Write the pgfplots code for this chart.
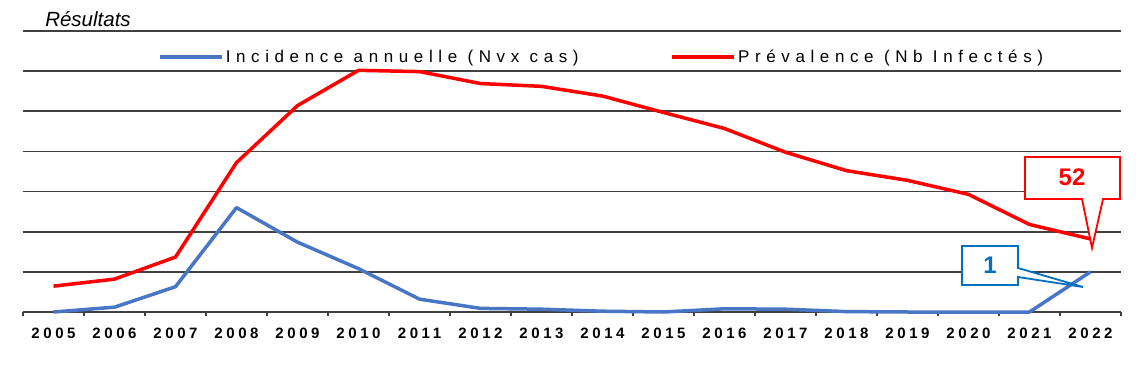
\documentclass[border=0pt]{standalone}
\usepackage{fontspec}
\setmainfont{Liberation Sans}
\newfontfamily\legfont[LetterSpace=33]{Liberation Sans}
\newfontfamily\tickfont[LetterSpace=24]{Liberation Sans}
\usepackage{pgfplots}
\pgfplotsset{compat=1.18}
\definecolor{incblue}{RGB}{72,118,196}
\definecolor{calblue}{RGB}{0,112,192}
\definecolor{gridgray}{RGB}{64,64,64}
\begin{document}
\begin{tikzpicture}
\path[use as bounding box] (0,0) rectangle (1145pt,375pt);
\begin{axis}[
  at={(23pt,63pt)}, anchor=south west, scale only axis,
  width=1098pt, height=281pt,
  xmin=-0.5, xmax=17.5, ymin=0, ymax=7,
  clip=false,
  axis line style={draw=none},
  ytick={0,...,7}, yticklabels={}, ymajorgrids,
  major y tick style={draw=none},
  grid style={draw=gridgray, line width=1.8pt},
  xtick={0,...,17},
  xticklabels={2005,2006,2007,2008,2009,2010,2011,2012,2013,2014,2015,2016,2017,2018,2019,2020,2021,2022},
  major x tick style={draw=none},
  minor xtick={-0.5,0.5,...,17.5},
  minor tick length=4pt,
  tick align=outside, xtick pos=bottom,
  minor x tick style={draw=gridgray, line width=1.5pt},
  xticklabel style={font=\tickfont\bfseries\fontsize{15}{16}\selectfont, yshift=-8pt},
  legend columns=2,
  legend cell align=left,
  legend style={at={(0.123,0.907)}, anchor=west, draw=none, fill=none, inner sep=0pt,
    font=\legfont\fontsize{17}{18}\selectfont,
    /tikz/every even column/.append style={column sep=90pt}},
  legend image code/.code={\draw[#1] (0pt,0pt) -- (62pt,0pt);},
]
\addplot[incblue, line width=3.5pt, line join=round] coordinates {
 (0,0) (1,0.12) (2,0.63) (3,2.6) (4,1.74) (5,1.08) (6,0.32) (7,0.09) (8,0.07)
 (9,0.02) (10,0) (11,0.08) (12,0.07) (13,0.01) (14,0) (15,0) (16,0) (17,1)};
\addlegendentry{Incidence annuelle (Nvx cas)}
\addlegendimage{red, line width=3.5pt}
\addlegendentry{Prévalence (Nb Infectés)}
\end{axis}
\begin{axis}[
  at={(23pt,63pt)}, anchor=south west, scale only axis,
  width=1098pt, height=281pt,
  xmin=-0.5, xmax=17.5, ymin=0, ymax=200,
  hide axis, clip=false,
]
\addplot[red, line width=3.5pt, line join=round] coordinates {
 (0,18.4) (1,23.4) (2,39.1) (3,106.3) (4,146.9) (5,172) (6,171.1) (7,162.6)
 (8,160.6) (9,153.7) (10,142) (11,130.6) (12,113.7) (13,100.6) (14,93.7)
 (15,83.7) (16,62.3) (17,52)};
\end{axis}
\node[font=\itshape\fontsize{20.5}{21}\selectfont] at (88pt,356pt) {Résultats};
\draw[red, line width=1.8pt, fill=white, line join=miter]
  (1025pt,218pt) -- (1120pt,218pt) -- (1120pt,176pt) -- (1103pt,176pt)
  -- (1092pt,127pt) -- (1082pt,176pt) -- (1025pt,176pt) -- cycle;
\node[text=red, font=\bfseries\fontsize{24}{25}\selectfont] at (1072pt,198pt) {52};
\draw[calblue, line width=1.8pt, fill=white, line join=miter]
  (962pt,129pt) -- (1018pt,129pt) -- (1018pt,107pt) -- (1083pt,88pt)
  -- (1018pt,98pt) -- (1018pt,90pt) -- (962pt,90pt) -- cycle;
\node[text=calblue, font=\bfseries\fontsize{24}{25}\selectfont] at (990pt,110pt) {1};
\end{tikzpicture}
\end{document}
